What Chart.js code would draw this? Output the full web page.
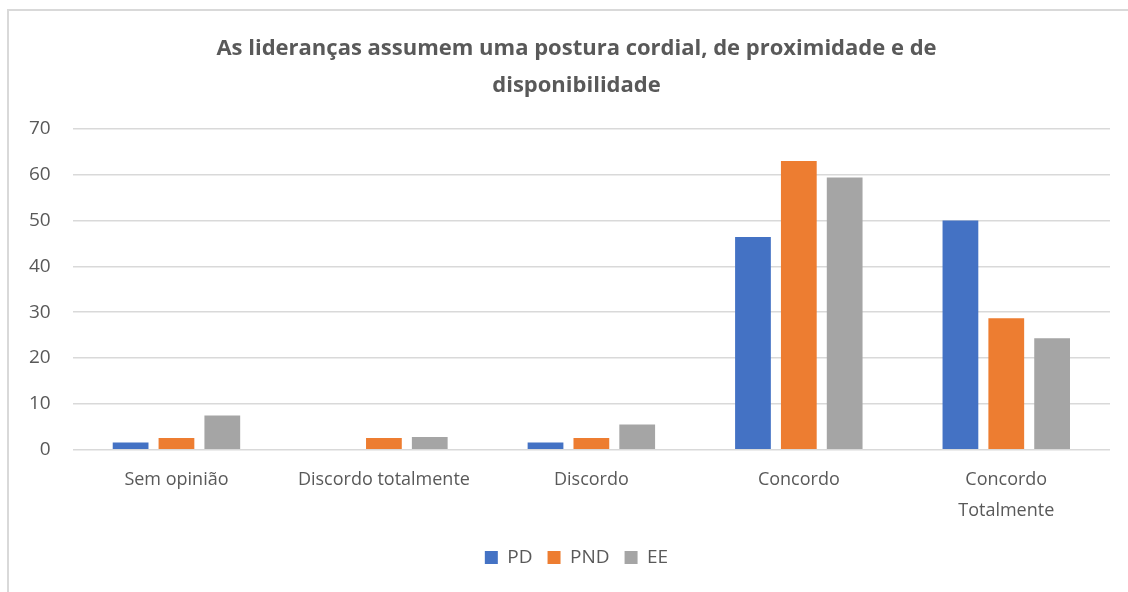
<!DOCTYPE html>
<html>
<head>
<meta charset="utf-8">
<script src="https://cdn.jsdelivr.net/npm/chart.js@4"></script>
<style>
  html, body { margin: 0; padding: 0; background: #fff; overflow: hidden; }
  .caixa {
    position: absolute; left: 7px; top: 9px;
    width: 1200px; height: 700px;
    border: 2px solid #d9d9d9; box-sizing: border-box;
  }
  canvas { position: absolute; left: 0; top: 0; }
</style>
</head>
<body>
<div class="caixa"></div>
<canvas id="grafico" width="1146" height="592"></canvas>
<script>
// Dados
const categorias = ['Sem opinião', 'Discordo totalmente', 'Discordo', 'Concordo', ['Concordo', 'Totalmente']];
const valoresPD = [1.6, 0, 1.6, 46.4, 50.0];
const valoresPND = [2.6, 2.6, 2.6, 63.0, 28.7];
const valoresEE = [7.5, 2.8, 5.5, 59.4, 24.3];
const ticksY = [0, 10, 20, 30, 40, 50, 60, 70];

const cinzaTexto = '#595959';
const fonte = '"Open Sans", "Noto Sans", sans-serif';

const ctx = document.getElementById('grafico').getContext('2d');
new Chart(ctx, {
  type: 'bar',
  data: {
    labels: categorias,
    datasets: [
      { label: 'PD', data: valoresPD, backgroundColor: '#4472c4' },
      { label: 'PND', data: valoresPND, backgroundColor: '#ed7d31' },
      { label: 'EE', data: valoresEE, backgroundColor: '#a5a5a5' }
    ]
  },
  options: {
    responsive: false,
    animation: false,
    layout: { padding: { left: 7, right: 0, top: 30, bottom: 15 } },
    datasets: { bar: { categoryPercentage: 0.663, barPercentage: 0.78 } },
    plugins: {
      title: {
        display: true,
        text: ['As lideranças assumem uma postura cordial, de proximidade e de', 'disponibilidade'],
        color: cinzaTexto,
        font: { family: fonte, size: 22, weight: 'bold', lineHeight: 1.7 },
        padding: { top: 0, bottom: 24 }
      },
      legend: {
        position: 'bottom',
        labels: {
          color: cinzaTexto,
          font: { family: fonte, size: 19 },
          boxWidth: 13, boxHeight: 13,
          padding: 15
        }
      },
      tooltip: { enabled: false }
    },
    scales: {
      x: {
        grid: { display: false },
        border: { display: false },
        ticks: { color: cinzaTexto, font: { family: fonte, size: 18, lineHeight: 1.7 }, padding: 7 }
      },
      y: {
        min: 0, max: 70,
        afterBuildTicks: (eixo) => { eixo.ticks = ticksY.map(v => ({ value: v })); },
        grid: { color: '#d9d9d9', lineWidth: 1.5, drawTicks: false },
        border: { display: false },
        ticks: { color: cinzaTexto, font: { family: fonte, size: 19 }, padding: 22 }
      },
      // margem direita vazia (a caixa do gráfico continua além da imagem)
      margem: {
        position: 'right',
        grid: { display: false },
        border: { display: false },
        ticks: { display: false },
        afterFit: (eixo) => { eixo.width = 36; }
      }
    }
  }
});
</script>
</body>
</html>
